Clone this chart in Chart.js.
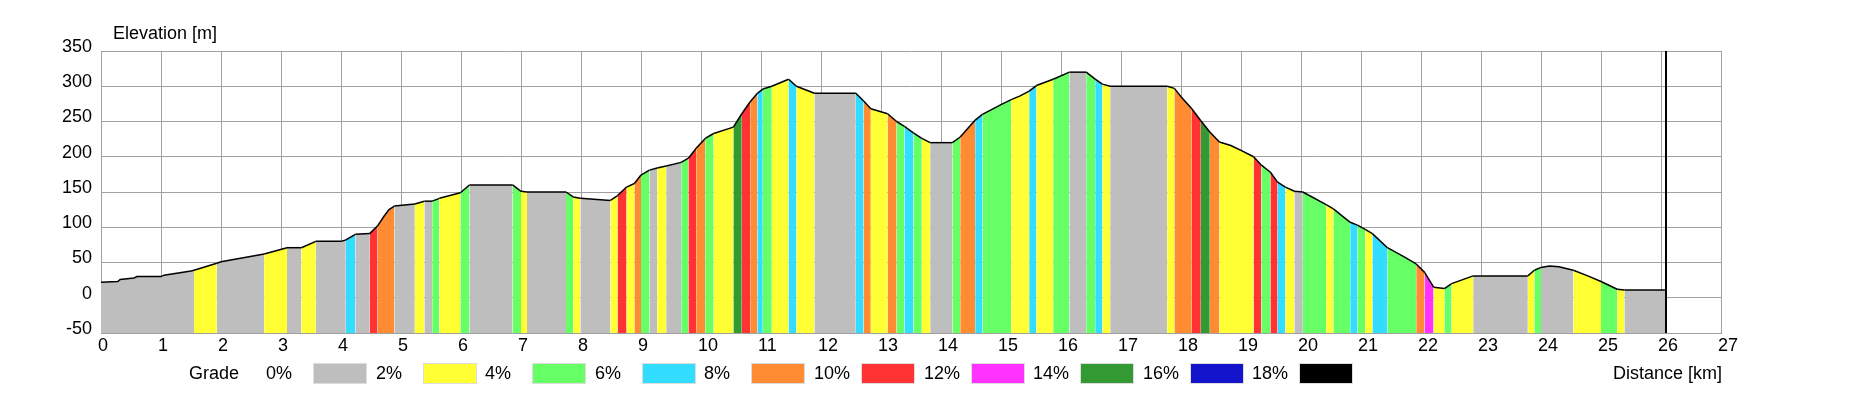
<!DOCTYPE html>
<html>
<head>
<meta charset="utf-8">
<script src="https://cdn.jsdelivr.net/npm/chart.js@4/dist/chart.umd.min.js"></script>
<style>
  html, body { margin: 0; padding: 0; background: #fff; }
  canvas { display: block; }
</style>
</head>
<body>
<canvas id="profile" width="1859" height="397"></canvas>
<script>
// distance [km] / elevation [m], grade class = colour of the stripe starting at that point
const distance = [0.00, 0.28, 0.32, 0.55, 0.60, 1.00, 1.05, 1.50, 1.55, 1.93, 2.00, 2.72, 3.10, 3.34, 3.58, 4.00, 4.08, 4.24, 4.48, 4.61,
  4.72, 4.80, 4.89, 5.23, 5.39, 5.52, 5.64, 5.99, 6.14, 6.86, 7.00, 7.10, 7.75, 7.87, 7.99, 8.49, 8.61, 8.76, 8.89, 9.00,
  9.14, 9.27, 9.42, 9.67, 9.79, 9.92, 10.07, 10.21, 10.54, 10.68, 10.82, 10.94, 11.03, 11.18, 11.32, 11.46, 11.59, 11.89, 12.58, 12.71,
  12.83, 13.11, 13.26, 13.39, 13.54, 13.68, 13.82, 14.19, 14.32, 14.57, 14.69, 15.00, 15.17, 15.31, 15.47, 15.59, 15.87, 16.14, 16.42, 16.57,
  16.69, 16.82, 17.77, 17.89, 18.00, 18.18, 18.33, 18.48, 18.64, 18.83, 19.00, 19.21, 19.34, 19.49, 19.61, 19.74, 19.89, 20.03, 20.42, 20.54,
  20.82, 20.94, 21.07, 21.19, 21.44, 21.72, 21.92, 22.06, 22.21, 22.39, 22.51, 22.87, 23.78, 23.89, 24.00, 24.14, 24.30, 24.54, 24.78, 25.00,
  25.27, 25.39, 26.09]
const elevation = [22, 23, 26, 28, 30, 30, 32, 38, 39, 49, 51, 62, 71, 71, 80, 80, 82, 90, 91, 102,
  116, 125, 130, 133, 137, 137, 141, 149, 160, 160, 151, 150, 150, 143, 141, 138, 145, 157, 162, 174,
  181, 184, 187, 192, 198, 212, 226, 233, 242, 261, 278, 290, 296, 300, 305, 310, 300, 290, 290, 279,
  268, 261, 250, 243, 234, 226, 220, 220, 228, 252, 260, 274, 281, 286, 293, 301, 310, 320, 320, 310,
  303, 300, 300, 297, 285, 268, 251, 235, 221, 216, 209, 200, 188, 178, 164, 157, 151, 150, 132, 126,
  107, 103, 97, 91, 71, 58, 48, 36, 15, 13, 20, 31, 31, 39, 43, 45, 44, 39, 31, 23,
  12, 11, 11]
const grade = [0, 0, 0, 0, 0, 0, 0, 0, 1, 0, 0, 1, 0, 1, 0, 0, 3, 0, 5, 4,
  4, 4, 0, 1, 0, 2, 1, 2, 0, 2, 1, 0, 2, 1, 0, 1, 5, 1, 4, 2,
  0, 1, 0, 2, 5, 4, 2, 1, 7, 5, 4, 3, 2, 1, 1, 3, 1, 0, 3, 4,
  1, 4, 2, 3, 2, 1, 0, 2, 4, 3, 2, 2, 1, 1, 3, 1, 2, 0, 2, 3,
  1, 0, 1, 4, 4, 5, 7, 4, 1, 1, 1, 5, 2, 5, 3, 1, 0, 2, 1, 2,
  3, 2, 1, 3, 2, 2, 4, 6, 1, 2, 1, 0, 1, 2, 0, 0, 0, 1, 1, 2,
  1, 0, 0]

const gradeLabels = ['0%', '2%', '4%', '6%', '8%', '10%', '12%', '14%', '16%', '18%']
const gradeColors = ['#bebebe', '#ffff33', '#66ff66', '#33ddff', '#ff8c33', '#ff3333', '#ff33ff', '#339933', '#1414cc', '#000000']

const FONT = '"Liberation Sans", Arial, sans-serif'
const gridColor = '#a0a0a0'

// titles, grade legend and end-of-track marker
const extras = {
  id: 'extras',
  afterDraw(chart) {
    const { ctx, chartArea, scales } = chart
    const xe = Math.round(scales.x.getPixelForValue(distance[distance.length - 1]))
    ctx.save()
    ctx.strokeStyle = '#000'
    ctx.lineWidth = 2
    ctx.beginPath()
    ctx.moveTo(xe, chartArea.top)
    ctx.lineTo(xe, chartArea.bottom)
    ctx.stroke()

    ctx.font = '18px ' + FONT
    ctx.fillStyle = '#000'
    ctx.textBaseline = 'alphabetic'
    ctx.fillText('Elevation [m]', 113, 39)
    ctx.fillText('Distance [km]', 1613, 379)
    ctx.fillText('Grade', 189, 379)
    gradeLabels.forEach((t, i) => {
      const lx = Math.round(266 + i * 109.6)
      ctx.fillStyle = '#000'
      ctx.fillText(t, lx, 379)
      ctx.fillStyle = gradeColors[i]
      ctx.fillRect(lx + 47, 363, 54, 21)
      ctx.strokeStyle = '#dddddd'
      ctx.lineWidth = 1
      ctx.strokeRect(lx + 47.5, 363.5, 53, 20)
    })
    ctx.restore()
  }
}

const ctx = document.getElementById('profile')

const config = {
  type: 'line',
  data: {
    datasets: [{
      data: distance.map((d, i) => ({ x: d, y: elevation[i] })),
      borderColor: '#000',
      borderWidth: 1.5,
      backgroundColor: gradeColors[0],
      fill: 'start',
      pointRadius: 0,
      tension: 0,
      segment: {
        backgroundColor: c => gradeColors[grade[c.p0DataIndex]]
      }
    }]
  },
  options: {
    responsive: false,
    animation: false,
    devicePixelRatio: 1,
    layout: { padding: { top: 51, right: 138, left: 0, bottom: 0 } },
    plugins: { legend: { display: false }, tooltip: { enabled: false } },
    scales: {
      x: {
        type: 'linear',
        min: 0,
        max: 27,
        z: 1,
        grid: { color: gridColor, drawTicks: false },
        border: { color: gridColor },
        ticks: { stepSize: 1, align: 'start', labelOffset: -3, padding: 2, color: '#000', font: { family: FONT, size: 18 } },
        afterFit: s => { s.height = 64 }
      },
      y: {
        min: -50,
        max: 350,
        z: 1,
        grid: { color: gridColor, drawTicks: false },
        border: { color: gridColor },
        ticks: { stepSize: 50, labelOffset: -4, padding: 9, color: '#000', font: { family: FONT, size: 18 } },
        afterFit: s => { s.width = 101 }
      }
    }
  },
  plugins: [extras]
}

const graph = new Chart(ctx, config)
</script>
</body>
</html>
